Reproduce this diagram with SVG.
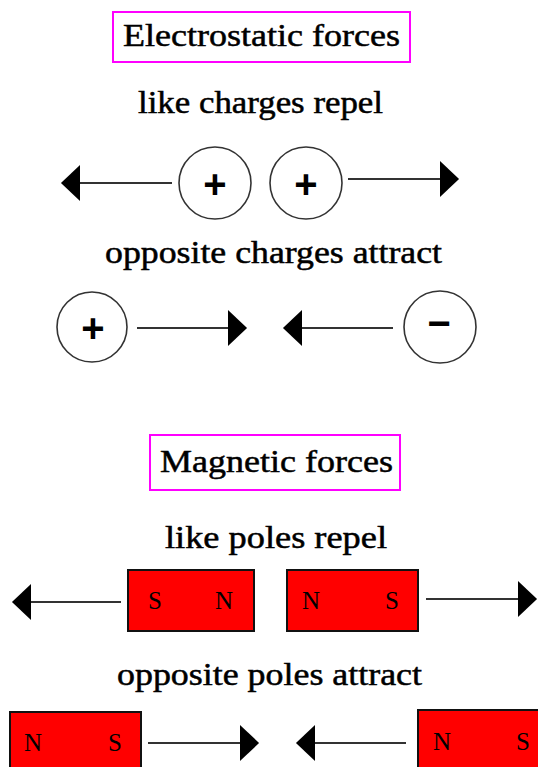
<svg xmlns="http://www.w3.org/2000/svg" width="538" height="767" viewBox="0 0 538 767">
<style>
.bg{fill:#fff}
.title-box{fill:#fff;stroke:#ff00ff;stroke-width:2}
.head{font-family:"Liberation Serif","Times New Roman",serif;font-size:32px;fill:#000;stroke:#000;stroke-width:0.5}
.sub{font-family:"Liberation Serif","Times New Roman",serif;font-size:31px;fill:#000;stroke:#000;stroke-width:0.5}
.charge{fill:#fff;stroke:#333;stroke-width:1.6}
.sign{font-family:"Liberation Sans",Arial,sans-serif;font-weight:bold;font-size:40px;fill:#000;text-anchor:middle}
.magnet{fill:#ff0000;stroke:#111;stroke-width:2}
.pole{font-family:"Liberation Serif","Times New Roman",serif;font-size:25px;fill:#000;text-anchor:middle}
.arrow{stroke:#333;stroke-width:2;fill:none;marker-end:url(#ah)}
</style>
<defs>
<marker id="ah" markerUnits="userSpaceOnUse" markerWidth="20" markerHeight="36" viewBox="0 0 18 34" refX="0" refY="17" orient="auto">
<path d="M0,0 L18,17 L0,34 Z" fill="#000"/>
</marker>
</defs>
<rect class="bg" x="0" y="0" width="538" height="767"/>

<g id="title-electrostatic">
<rect class="title-box" x="113" y="12" width="297" height="50"/>
<text class="head" x="123" y="46" textLength="277" lengthAdjust="spacingAndGlyphs">Electrostatic forces</text>
</g>
<g id="label-like-charges">
<text class="sub" x="138" y="113" textLength="245" lengthAdjust="spacingAndGlyphs">like charges repel</text>
</g>
<g id="charge-plus-1">
<circle class="charge" cx="215" cy="183" r="36"/>
<text class="sign" x="215" y="197.5">+</text>
</g>
<g id="charge-plus-2">
<circle class="charge" cx="306" cy="183" r="36"/>
<text class="sign" x="306" y="197.5">+</text>
</g>
<g id="label-opposite-charges">
<text class="sub" x="105" y="263" textLength="337" lengthAdjust="spacingAndGlyphs">opposite charges attract</text>
</g>
<g id="charge-plus-3">
<circle class="charge" cx="92" cy="327" r="35"/>
<text class="sign" x="93" y="341.5">+</text>
</g>
<g id="charge-minus">
<circle class="charge" cx="440" cy="327" r="36"/>
<text class="sign" x="439" y="336.5">−</text>
</g>

<g id="title-magnetic">
<rect class="title-box" x="150" y="435" width="250" height="55"/>
<text class="head" x="160" y="472" textLength="233" lengthAdjust="spacingAndGlyphs">Magnetic forces</text>
</g>
<g id="label-like-poles">
<text class="sub" x="165" y="548" textLength="222" lengthAdjust="spacingAndGlyphs">like poles repel</text>
</g>
<g id="magnet-1">
<rect class="magnet" x="128" y="570" width="126" height="61"/>
<text class="pole" x="155" y="609">S</text>
<text class="pole" x="224" y="609">N</text>
</g>
<g id="magnet-2">
<rect class="magnet" x="287" y="570" width="131" height="61"/>
<text class="pole" x="311" y="609">N</text>
<text class="pole" x="392" y="609">S</text>
</g>
<g id="label-opposite-poles">
<text class="sub" x="117" y="685" textLength="305" lengthAdjust="spacingAndGlyphs">opposite poles attract</text>
</g>
<g id="magnet-3">
<rect class="magnet" x="10" y="712" width="131" height="64"/>
<text class="pole" x="33" y="751">N</text>
<text class="pole" x="115" y="751">S</text>
</g>
<g id="magnet-4">
<rect class="magnet" x="418" y="710" width="130" height="66"/>
<text class="pole" x="442" y="750">N</text>
<text class="pole" x="523" y="750">S</text>
</g>

<g id="connectors">
<line class="arrow" x1="172" y1="183" x2="80" y2="183"/>
<line class="arrow" x1="348" y1="179" x2="440" y2="179"/>
<line class="arrow" x1="137" y1="328" x2="228" y2="328"/>
<line class="arrow" x1="393" y1="328" x2="302" y2="328"/>
<line class="arrow" x1="121" y1="602" x2="31" y2="602"/>
<line class="arrow" x1="426" y1="599" x2="518" y2="599"/>
<line class="arrow" x1="148" y1="743" x2="240" y2="743"/>
<line class="arrow" x1="406" y1="743" x2="315" y2="743"/>
</g>
</svg>
